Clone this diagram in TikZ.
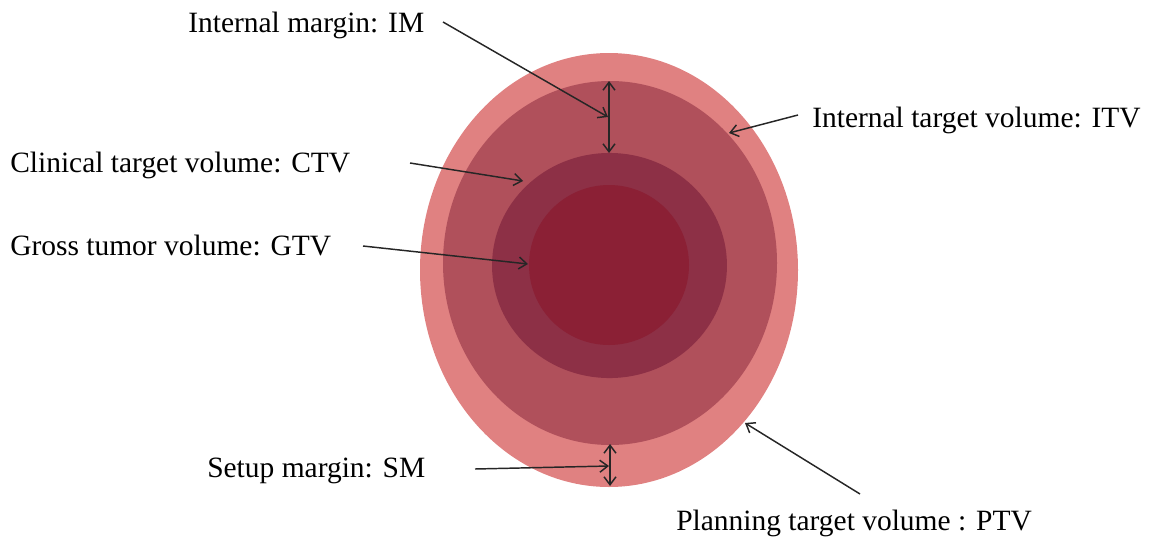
\documentclass[tikz,border=0pt]{standalone}
\usepackage{fontspec}
\setmainfont{Liberation Serif}
\usetikzlibrary{arrows.meta}
\definecolor{ptvc}{RGB}{224,129,129}
\definecolor{itvc}{RGB}{176,80,91}
\definecolor{ctvc}{RGB}{141,48,70}
\definecolor{gtvc}{RGB}{139,32,53}
\tikzset{
  lbl/.style={anchor=base west, inner sep=0pt, font=\fontsize{22.1}{26}\selectfont, text=black},
  ptr/.style={draw=black!85, line width=1.1pt, -{Straight Barb[length=6pt,width=9pt,line width=1.1pt]}},
  dbl/.style={draw=black!85, line width=1.1pt, {Straight Barb[length=6pt,width=9pt,line width=1.1pt]}-{Straight Barb[length=6pt,width=9pt,line width=1.1pt]}}
}
\begin{document}
\begin{tikzpicture}[x=0.75pt,y=-0.75pt]
\useasboundingbox (0,0) rectangle (1149,543);
% volumes
\fill[ptvc] (609,270) ellipse [x radius=141.75pt, y radius=162.75pt];
\fill[itvc] (610,263) ellipse [x radius=125.25pt, y radius=136.5pt];
\fill[ctvc] (609.5,265.5) ellipse [x radius=88.1pt, y radius=84.4pt];
\fill[gtvc] (609,265) circle [radius=60pt];
% labels
\node[lbl] (im) at (188,32) {Internal margin: IM};
\node[lbl] (ctvl) at (10,172) {Clinical target volume: CTV};
\node[lbl] (gtvl) at (10,255) {Gross tumor volume: GTV};
\node[lbl] (sml) at (207,477) {Setup margin: SM};
\node[lbl] (itvl) at (812,127) {Internal target volume: ITV};
\node[lbl] (ptvl) at (676,530) {Planning target volume : PTV};
% coordinates
\coordinate (imS) at (443,22);   \coordinate (imE) at (608,117);
\coordinate (imT) at (609,81);   \coordinate (imB) at (609,153);
\coordinate (ctvS) at (410,163); \coordinate (ctvE) at (523,181);
\coordinate (gtvS) at (363,246); \coordinate (gtvE) at (528,264);
\coordinate (itvS) at (798,115); \coordinate (itvE) at (729,133);
\coordinate (ptvS) at (860,494); \coordinate (ptvE) at (745,423);
\coordinate (smS) at (475,469);  \coordinate (smE) at (609,466);
\coordinate (smT) at (610,444);  \coordinate (smB) at (610,486);
% connectors
\draw[dbl] (imT) -- (imB);
\draw[ptr] (imS) -- (imE);
\draw[ptr] (ctvS) -- (ctvE);
\draw[ptr] (gtvS) -- (gtvE);
\draw[ptr] (itvS) -- (itvE);
\draw[ptr] (ptvS) -- (ptvE);
\draw[dbl] (smT) -- (smB);
\draw[ptr] (smS) -- (smE);
\end{tikzpicture}
\end{document}
